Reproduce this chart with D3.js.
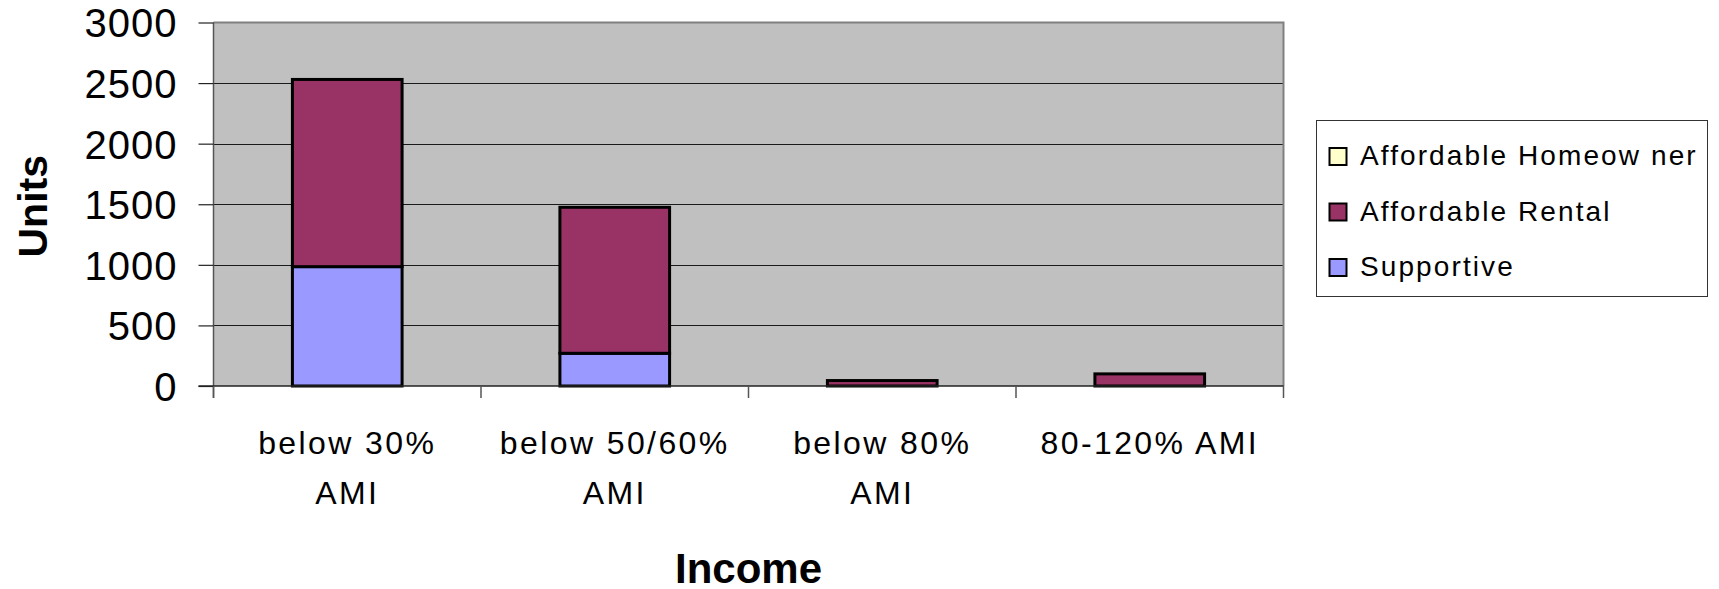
<!DOCTYPE html>
<html>
<head>
<meta charset="utf-8">
<script src="https://cdn.jsdelivr.net/npm/d3@7"></script>
<style>
  html, body { margin: 0; padding: 0; background: #ffffff; }
  svg { display: block; font-family: "Liberation Sans", Arial, sans-serif; }
</style>
</head>
<body>
<svg id="chart" width="1719" height="589"></svg>
<script>
// Income bands on the x axis
const categories = ["below 30% AMI", "below 50/60% AMI", "below 80% AMI", "80-120% AMI"];
// Wrapped axis labels for each band
const categoryLines = [["below 30%", "AMI"], ["below 50/60%", "AMI"], ["below 80%", "AMI"], ["80-120% AMI"]];

// Units by program type (stacked bottom to top)
const supportive = [985, 270, 0, 0];
const affordableRental = [1545, 1205, 45, 100];
const affordableHomeowner = [0, 0, 0, 0];

const seriesNames = ["Supportive", "Affordable Rental", "Affordable Homeowner"];
const legendLabels = ["Affordable Homeow ner", "Affordable Rental", "Supportive"];
const seriesColors = ["#9999FF", "#993366", "#FFFFCC"];

const yTicks = [0, 500, 1000, 1500, 2000, 2500, 3000];

const svg = d3.select("#chart");

const plot = { left: 213.5, right: 1283.5, top: 22.5, bottom: 386 };

const x = d3.scaleBand().domain(categories).range([plot.left, plot.right]).padding(0);
const y = d3.scaleLinear().domain([0, 3000]).range([plot.bottom, plot.top]);
const color = d3.scaleOrdinal().domain(seriesNames).range(seriesColors);

const rows = categories.map((c, i) => ({
  category: c,
  "Supportive": supportive[i],
  "Affordable Rental": affordableRental[i],
  "Affordable Homeowner": affordableHomeowner[i]
}));
const stacked = d3.stack().keys(seriesNames)(rows);

// Plot background
svg.append("rect")
  .attr("x", plot.left).attr("y", plot.top)
  .attr("width", plot.right - plot.left).attr("height", plot.bottom - plot.top)
  .attr("fill", "#C0C0C0");

// Horizontal gridlines
svg.append("g")
  .selectAll("line")
  .data(yTicks.filter(t => t > 0 && t < 3000))
  .join("line")
  .attr("x1", plot.left).attr("x2", plot.right)
  .attr("y1", d => Math.round(y(d)) + 0.5).attr("y2", d => Math.round(y(d)) + 0.5)
  .attr("stroke", "#1a1a1a").attr("stroke-width", 1.2);

// Top and right frame of the plot area
svg.append("path")
  .attr("d", `M${plot.left},${plot.top} H${plot.right} V${plot.bottom}`)
  .attr("fill", "none").attr("stroke", "#808080").attr("stroke-width", 2);

// Stacked bars
const barFrac = 0.41;
const barW = x.bandwidth() * barFrac;
svg.append("g")
  .selectAll("g")
  .data(stacked)
  .join("g")
  .attr("fill", d => color(d.key))
  .selectAll("rect")
  .data(d => d.filter(s => s[1] - s[0] > 0))
  .join("rect")
  .attr("x", d => x(d.data.category) + (x.bandwidth() - barW) / 2)
  .attr("y", d => y(d[1]))
  .attr("width", barW)
  .attr("height", d => y(d[0]) - y(d[1]))
  .attr("stroke", "#000").attr("stroke-width", 3);

// Y axis
const yAxis = d3.axisLeft(y).tickValues(yTicks).tickSize(15).tickPadding(21).tickFormat(d3.format("d"));
const gy = svg.append("g").attr("transform", `translate(${plot.left},0)`).call(yAxis);
gy.select(".domain").attr("stroke", "#555").attr("stroke-width", 1.5)
  .attr("d", `M0,${plot.top}V${plot.bottom + 12}`);
gy.selectAll(".tick line").attr("stroke", "#222").attr("stroke-width", 1.2);
gy.selectAll(".tick text")
  .attr("font-size", 40).attr("fill", "#000")
  .attr("letter-spacing", 1)
  .attr("font-family", "'Liberation Sans', Arial, sans-serif")
  .attr("dy", "0.36em");

// X axis baseline and category boundary ticks
const boundaries = categories.map(c => x(c)).concat([plot.right]);
svg.append("line")
  .attr("x1", plot.left - 15).attr("x2", plot.right)
  .attr("y1", plot.bottom).attr("y2", plot.bottom)
  .attr("stroke", "#222").attr("stroke-width", 1.5);
svg.append("g")
  .selectAll("line")
  .data(boundaries)
  .join("line")
  .attr("x1", d => d).attr("x2", d => d)
  .attr("y1", plot.bottom).attr("y2", plot.bottom + 12)
  .attr("stroke", "#555").attr("stroke-width", 1.5);

// Category labels
const xl = svg.append("g")
  .selectAll("text")
  .data(categories)
  .join("text")
  .attr("x", d => x(d) + x.bandwidth() / 2)
  .attr("y", 454)
  .attr("text-anchor", "middle")
  .attr("font-size", 32)
  .attr("letter-spacing", 2.4)
  .attr("fill", "#000");
xl.selectAll("tspan")
  .data((d, i) => categoryLines[i])
  .join("tspan")
  .attr("x", function () { return d3.select(this.parentNode).attr("x"); })
  .attr("dy", (d, i) => i === 0 ? 0 : 50)
  .text(d => d);

// Axis titles
svg.append("text")
  .attr("x", (plot.left + plot.right) / 2).attr("y", 583)
  .attr("text-anchor", "middle")
  .attr("font-size", 42).attr("font-weight", "bold")
  .text("Income");

svg.append("text")
  .attr("transform", `translate(46.5,${(plot.top + plot.bottom) / 2 + 2}) rotate(-90)`)
  .attr("text-anchor", "middle")
  .attr("font-size", 41).attr("font-weight", "bold")
  .text("Units");

// Legend
const legend = svg.append("g");
legend.append("rect")
  .attr("x", 1316.5).attr("y", 120.5).attr("width", 391).attr("height", 176)
  .attr("fill", "#fff").attr("stroke", "#333").attr("stroke-width", 1);

const legendOrder = seriesNames.slice().reverse();
const items = legend.selectAll("g.item")
  .data(legendOrder)
  .join("g")
  .attr("class", "item")
  .attr("transform", (d, i) => `translate(0,${165 + i * 55.5})`);
items.append("rect")
  .attr("x", 1329.5).attr("y", -17).attr("width", 17).attr("height", 17)
  .attr("fill", d => color(d)).attr("stroke", "#000").attr("stroke-width", 2);
items.append("text")
  .attr("x", 1360).attr("y", 0)
  .attr("font-size", 28).attr("letter-spacing", 2.1)
  .attr("fill", "#000")
  .text((d, i) => legendLabels[i]);
</script>
</body>
</html>
